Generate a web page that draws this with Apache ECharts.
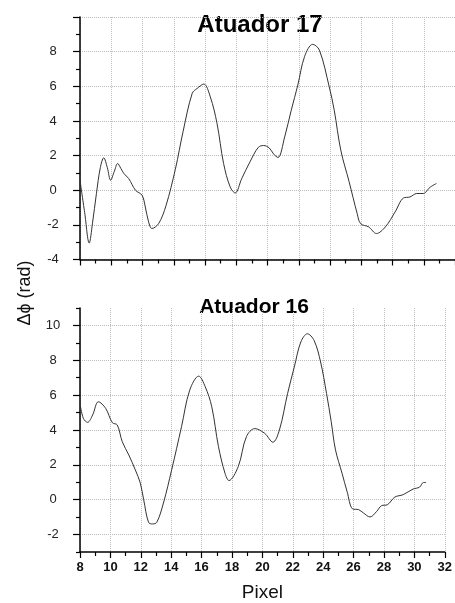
<!DOCTYPE html>
<html>
<head>
<meta charset="utf-8">
<script src="https://cdn.jsdelivr.net/npm/echarts@6/dist/echarts.min.js"></script>
<style>
  html, body { margin: 0; padding: 0; background: #fff; }
  #chart { width: 455px; height: 603px; }
</style>
</head>
<body>
<div id="chart"></div>
<script>
// Phase difference profiles per actuator (pixel position vs Δϕ in rad)
const pixel17 = [8.0, 8.3, 8.59, 8.8, 9.05, 9.3, 9.52, 9.75, 9.96, 10.2, 10.41, 10.62, 10.81, 11.12, 11.55, 11.97, 12.18, 12.39, 12.6, 13.03, 13.5, 14.1, 14.6, 15.18, 15.5, 15.92, 16.34, 16.77, 17.19, 17.61, 17.93, 18.35, 18.88, 19.41, 19.75, 20.1, 20.4, 20.67, 21.1, 21.52, 21.94, 22.37, 22.89, 23.32, 23.95, 24.27, 24.69, 25.22, 25.74, 25.96, 26.48, 26.97, 27.54, 28.17, 28.7, 29.12, 29.55, 29.97, 30.39, 30.81];
const phase17 = [0.58, -1.3, -3.05, -1.9, -0.2, 1.3, 1.87, 1.3, 0.58, 1.1, 1.54, 1.25, 0.96, 0.67, 0.0, -0.29, -0.97, -1.83, -2.21, -1.93, -0.9, 1.2, 3.4, 5.59, 5.88, 6.13, 5.39, 3.85, 1.54, 0.19, -0.16, 0.67, 1.64, 2.47, 2.58, 2.45, 2.08, 1.89, 3.08, 4.62, 6.07, 7.71, 8.42, 8.09, 5.97, 4.62, 2.31, 0.5, -1.35, -1.93, -2.12, -2.5, -2.12, -1.25, -0.45, -0.39, -0.19, -0.19, 0.16, 0.39];

const pixel16 = [8.0, 8.22, 8.5, 8.83, 9.21, 9.69, 10.13, 10.45, 10.78, 11.21, 11.64, 11.97, 12.19, 12.51, 12.77, 13.05, 13.49, 14.03, 14.68, 15.22, 15.81, 16.24, 16.67, 17.11, 17.54, 17.8, 18.41, 18.95, 19.5, 20.15, 20.69, 21.12, 21.66, 22.1, 22.53, 22.96, 23.4, 23.83, 24.22, 24.53, 24.81, 25.24, 25.57, 25.94, 26.33, 26.65, 27.08, 27.52, 27.84, 28.22, 28.71, 29.26, 29.91, 30.34, 30.6, 30.77];
const phase16 = [5.52, 4.67, 4.44, 4.86, 5.62, 5.24, 4.42, 4.29, 3.33, 2.57, 1.71, 0.95, 0.0, -1.3, -1.39, -1.3, -0.19, 1.71, 4.19, 6.29, 7.09, 6.48, 5.33, 3.05, 1.52, 1.1, 1.9, 3.62, 4.08, 3.81, 3.3, 4.0, 6.1, 7.62, 9.05, 9.52, 9.14, 7.9, 6.1, 4.47, 2.86, 1.52, 0.48, -0.53, -0.57, -0.76, -0.99, -0.67, -0.34, -0.29, 0.15, 0.29, 0.61, 0.72, 0.99, 0.99];

// Tick values for the lower panel's phase axis (it starts at -3, labels on even values)
const majorTicks16 = [-2, 0, 2, 4, 6, 8, 10];
const minorTicks16 = [-3, -1, 1, 3, 5, 7, 9, 11];

const titles = ['Atuador 17', 'Atuador 16'];
const yLabel = 'Δϕ (rad)';
const xLabel = 'Pixel';

const FONT = '"Liberation Sans", Arial, Helvetica, sans-serif';

function pairs(xs, ys) { return xs.map((x, i) => [x, ys[i]]); }

const gridLine = { show: true, lineStyle: { type: 'dotted', color: '#bdbdbd', width: 1 } };
const axisLine = { show: true, onZero: false, lineStyle: { color: '#000', width: 1.5 } };
const tickLine = { color: '#000', width: 1.2 };

function xAxisCfg(gridIndex, showLabels) {
  return {
    type: 'value', gridIndex, min: 8, max: 32, interval: 2,
    axisLine, splitLine: gridLine,
    axisTick: { show: true, inside: false, length: 6, lineStyle: tickLine },
    minorTick: { show: true, splitNumber: 2, length: 4, lineStyle: tickLine },
    axisLabel: {
      show: showLabels, margin: 9, color: '#111', fontFamily: FONT,
      fontSize: 13, fontWeight: 'bold'
    },
    name: showLabels ? xLabel : '',
    nameLocation: 'middle', nameGap: 31,
    nameTextStyle: { fontFamily: FONT, fontSize: 19, color: '#111' }
  };
}

const yLabelStyle = { show: true, margin: 27, align: 'center', color: '#222', fontFamily: FONT, fontSize: 13 };

const chart = echarts.init(document.getElementById('chart'), null, { renderer: 'canvas' });
chart.setOption({
  animation: false,
  backgroundColor: '#fff',
  grid: [
    { left: 80, top: 17, right: -4, height: 242.5 },
    { left: 80, top: 308, width: 369, height: 244.5 }
  ],
  xAxis: [xAxisCfg(0, false), xAxisCfg(1, true)],
  yAxis: [
    {
      type: 'value', gridIndex: 0, position: 'left', min: -4, max: 10, interval: 2,
      axisLine, splitLine: gridLine,
      axisTick: { show: true, length: 7, lineStyle: tickLine },
      minorTick: { show: true, splitNumber: 2, length: 4, lineStyle: tickLine },
      axisLabel: Object.assign({}, yLabelStyle, { showMaxLabel: false })
    },
    {
      type: 'value', gridIndex: 1, position: 'left', min: -3, max: 11, interval: 1,
      axisLine, splitLine: gridLine,
      axisTick: { show: true, length: 7, lineStyle: tickLine, customValues: majorTicks16 },
      axisLabel: Object.assign({}, yLabelStyle, { customValues: majorTicks16 })
    },
    {
      // minor ticks on odd values of the lower panel
      type: 'value', gridIndex: 1, position: 'left', offset: 0, min: -3, max: 11, interval: 1,
      axisLine: { show: false }, splitLine: { show: false },
      axisLabel: { show: false },
      axisTick: { show: true, length: 4, lineStyle: tickLine, customValues: minorTicks16 }
    }
  ],
  series: [
    {
      type: 'line', xAxisIndex: 0, yAxisIndex: 0,
      data: pairs(pixel17, phase17), smooth: 0.35, symbol: 'none',
      lineStyle: { color: '#333', width: 1 }
    },
    {
      type: 'line', xAxisIndex: 1, yAxisIndex: 1,
      data: pairs(pixel16, phase16), smooth: 0.35, symbol: 'none',
      lineStyle: { color: '#333', width: 1 }
    }
  ],
  graphic: [
    {
      type: 'text',
      style: { text: titles[0], font: 'bold 24px ' + FONT, fill: '#000',
               x: 260, y: 25, align: 'center', verticalAlign: 'middle' }
    },
    {
      type: 'text',
      style: { text: titles[1], font: 'bold 21px ' + FONT, fill: '#000',
               x: 254, y: 307, align: 'center', verticalAlign: 'middle' }
    },
    {
      type: 'text', x: 25, y: 293, rotation: Math.PI / 2,
      style: { text: yLabel, font: '18px ' + FONT, fill: '#111',
               x: 0, y: 0, align: 'center', verticalAlign: 'middle' }
    }
  ]
});
</script>
</body>
</html>
